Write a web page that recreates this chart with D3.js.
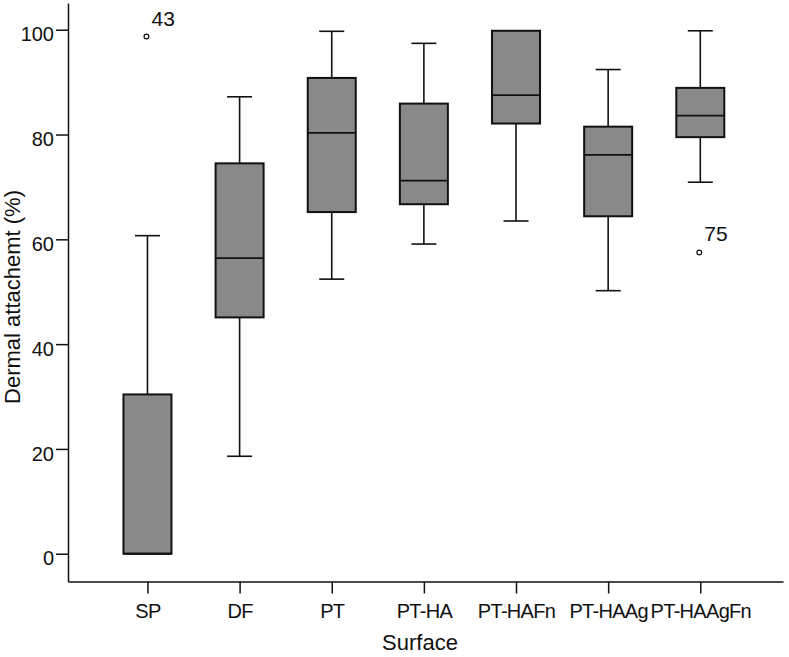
<!DOCTYPE html>
<html>
<head>
<meta charset="utf-8">
<script src="https://cdn.jsdelivr.net/npm/d3@7"></script>
<style>
	body { margin: 0; background: #fff; }
	svg text { font-family: "Liberation Sans", Arial, sans-serif; fill: #111; }
</style>
</head>
<body>
<div id="chart"></div>
<script>
// box summaries (percent)
const surfaces = ['SP', 'DF', 'PT', 'PT-HA', 'PT-HAFn', 'PT-HAAg', 'PT-HAAgFn'];
const whiskerLow = [0, 18.6, 52.4, 59.1, 63.5, 50.2, 70.9];
const q1 = [0, 45.1, 65.2, 66.7, 82.1, 64.4, 79.5];
const median = [0, 56.4, 80.3, 71.2, 87.5, 76.1, 83.6];
const q3 = [30.4, 74.5, 90.8, 85.9, 99.8, 81.5, 88.9];
const whiskerHigh = [60.7, 87.2, 99.7, 97.4, 99.8, 92.4, 99.8];

const outliers = [
	{ surface: 'SP', value: 98.7, label: '43' },
	{ surface: 'PT-HAAgFn', value: 57.5, label: '75' }
];

const yTicks = [0, 20, 40, 60, 80, 100];

const width = 789;
const height = 657;
const boxWidth = 48;
const capWidth = 25;

const svg = d3.select('#chart')
	.append('svg')
	.attr('width', width)
	.attr('height', height);

const x = d3.scalePoint()
	.domain(surfaces)
	.range([68, 783])
	.padding(0.88)
	.align(0.49);

const y = d3.scaleLinear()
	.domain([-5.3, 105.1])
	.range([581.5, 3]);

const boxes = surfaces.map((s, i) => ({
	surface: s,
	lo: whiskerLow[i],
	q1: q1[i],
	med: median[i],
	q3: q3[i],
	hi: whiskerHigh[i]
}));

// axes
const yAxis = svg.append('g')
	.attr('transform', 'translate(68,0)')
	.call(d3.axisLeft(y).tickValues(yTicks).tickSize(12).tickSizeOuter(0).tickPadding(2));

yAxis.selectAll('text')
	.attr('font-size', 20)
	.attr('dy', '0.56em');

const xAxis = svg.append('g')
	.attr('transform', 'translate(0,581.5)')
	.call(d3.axisBottom(x).tickSize(12).tickSizeOuter(0).tickPadding(10));

xAxis.selectAll('text')
	.attr('font-size', 20)
	.attr('letter-spacing', '-0.7px');

svg.selectAll('.domain, .tick line')
	.attr('stroke', '#111')
	.attr('stroke-width', 1.5);

// boxes
const g = svg.append('g');

const box = g.selectAll('.box')
	.data(boxes)
	.enter()
	.append('g')
	.attr('class', 'box');

// whiskers
box.append('line')
	.attr('x1', (d) => x(d.surface))
	.attr('x2', (d) => x(d.surface))
	.attr('y1', (d) => y(d.hi))
	.attr('y2', (d) => y(d.q3))
	.attr('stroke', '#111')
	.attr('stroke-width', 1.6);

box.append('line')
	.attr('x1', (d) => x(d.surface))
	.attr('x2', (d) => x(d.surface))
	.attr('y1', (d) => y(d.q1))
	.attr('y2', (d) => y(d.lo))
	.attr('stroke', '#111')
	.attr('stroke-width', 1.6);

box.filter((d) => d.hi > d.q3)
	.append('line')
	.attr('x1', (d) => x(d.surface) - capWidth / 2)
	.attr('x2', (d) => x(d.surface) + capWidth / 2)
	.attr('y1', (d) => y(d.hi))
	.attr('y2', (d) => y(d.hi))
	.attr('stroke', '#111')
	.attr('stroke-width', 1.6);

box.filter((d) => d.lo < d.q1)
	.append('line')
	.attr('x1', (d) => x(d.surface) - capWidth / 2)
	.attr('x2', (d) => x(d.surface) + capWidth / 2)
	.attr('y1', (d) => y(d.lo))
	.attr('y2', (d) => y(d.lo))
	.attr('stroke', '#111')
	.attr('stroke-width', 1.6);

box.append('rect')
	.attr('x', (d) => x(d.surface) - boxWidth / 2)
	.attr('width', boxWidth)
	.attr('y', (d) => y(d.q3))
	.attr('height', (d) => y(d.q1) - y(d.q3))
	.attr('fill', '#898989')
	.attr('stroke', '#111')
	.attr('stroke-width', 2);

box.append('line')
	.attr('x1', (d) => x(d.surface) - boxWidth / 2)
	.attr('x2', (d) => x(d.surface) + boxWidth / 2)
	.attr('y1', (d) => y(d.med))
	.attr('y2', (d) => y(d.med))
	.attr('stroke', '#111')
	.attr('stroke-width', 1.8);

// outliers
const out = g.selectAll('.outlier')
	.data(outliers)
	.enter()
	.append('g')
	.attr('class', 'outlier');

out.append('circle')
	.attr('cx', (d) => x(d.surface) - 1)
	.attr('cy', (d) => y(d.value))
	.attr('r', 2.4)
	.attr('fill', '#fff')
	.attr('stroke', '#111')
	.attr('stroke-width', 1.2);

out.append('text')
	.attr('x', (d) => x(d.surface) + 4)
	.attr('y', (d) => y(d.value) - 11)
	.attr('font-size', 21)
	.text((d) => d.label);

// axis titles
svg.append('text')
	.attr('x', 420)
	.attr('y', 650)
	.attr('text-anchor', 'middle')
	.attr('font-size', 22)
	.text('Surface');

svg.append('text')
	.attr('transform', 'translate(20,297) rotate(-90)')
	.attr('text-anchor', 'middle')
	.attr('font-size', 22)
	.text('Dermal attachemt (%)');
</script>
</body>
</html>
